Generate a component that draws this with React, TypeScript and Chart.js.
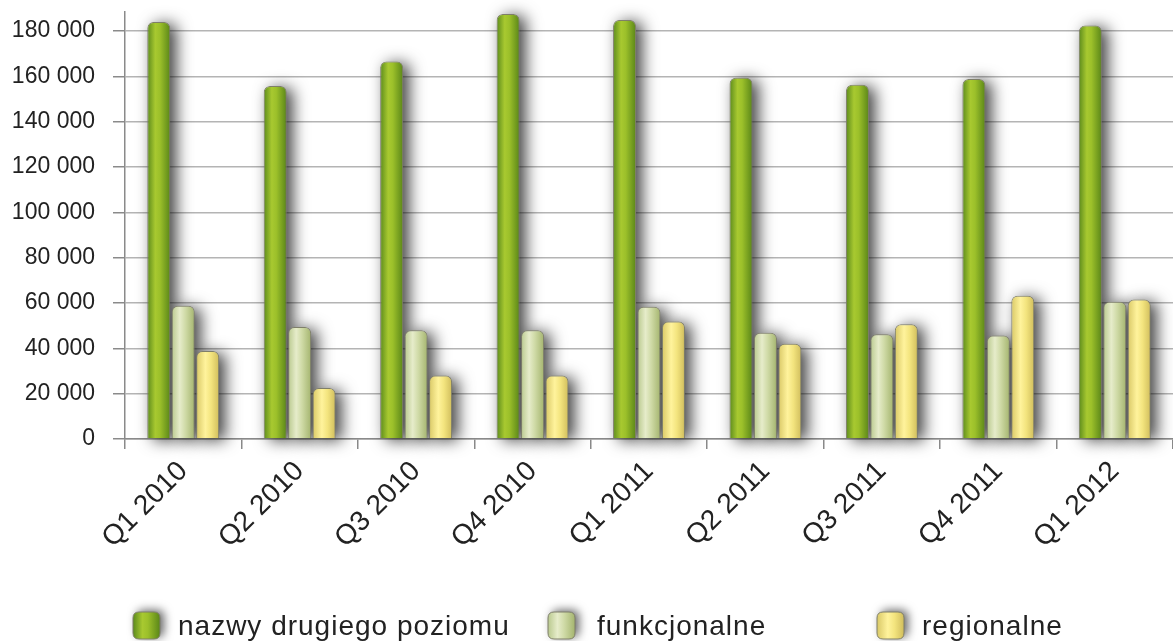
import React, { useEffect, useRef } from "react";
import { Chart, registerables } from "chart.js";

Chart.register(...registerables);

const categories = ["Q1 2010", "Q2 2010", "Q3 2010", "Q4 2010", "Q1 2011", "Q2 2011", "Q3 2011", "Q4 2011", "Q1 2012"];
const seriesNames = ["nazwy drugiego poziomu", "funkcjonalne", "regionalne"];
const secondLevel = [184000, 155700, 166600, 187500, 184900, 159400, 156300, 158800, 182400];
const functional = [58800, 49400, 48000, 48000, 58400, 46900, 46200, 45700, 60600];
const regional = [38800, 22500, 28000, 28000, 51800, 42000, 50600, 63200, 61500];
const yTickValues = [0, 20000, 40000, 60000, 80000, 100000, 120000, 140000, 160000, 180000];

const Y_MAX = 188400;
const CAT_PCT = 0.63;
const BAR_PCT = 0.94;
const FONT = "'Liberation Sans', Arial, sans-serif";

const GREEN_STOPS: [number, string][] = [[0, "#5b8a1c"], [0.35, "#a8c930"], [0.55, "#9cc02a"], [1, "#5a8618"]];
const LIGHT_STOPS: [number, string][] = [[0, "#b9c98e"], [0.35, "#e6ecca"], [0.6, "#cfdaa6"], [1, "#a4b46e"]];
const YELLOW_STOPS: [number, string][] = [[0, "#d9c866"], [0.4, "#fff39c"], [0.65, "#f3e47e"], [1, "#d0bd5c"]];
const STOPS = [GREEN_STOPS, LIGHT_STOPS, YELLOW_STOPS];

function fmt(v: number) {
  return String(v).replace(/\B(?=(\d{3})+(?!\d))/g, " ");
}

function hGradient(ctx: CanvasRenderingContext2D, x0: number, x1: number, stops: [number, string][]) {
  const g = ctx.createLinearGradient(x0, 0, x1, 0);
  stops.forEach(([o, c]) => g.addColorStop(o, c));
  return g;
}

function barGradient(c: any, stops: [number, string][]) {
  const chart = c.chart;
  const xs = chart.scales && chart.scales.x;
  if (!xs || c.dataIndex == null || !xs.width) return stops[1][1];
  const n = chart.data.labels.length;
  const cat = xs.width / n;
  const size = cat * CAT_PCT;
  const chunk = size / 3;
  const center = xs.getPixelForValue(c.dataIndex) - size / 2 + chunk * (c.datasetIndex + 0.5);
  const w = chunk * BAR_PCT;
  return hGradient(chart.ctx, center - w / 2, center + w / 2, stops);
}

function roundTopRect(ctx: CanvasRenderingContext2D, x: number, y: number, w: number, h: number, r: number) {
  ctx.beginPath();
  ctx.moveTo(x, y + h);
  ctx.lineTo(x, y + r);
  ctx.quadraticCurveTo(x, y, x + r, y);
  ctx.lineTo(x + w - r, y);
  ctx.quadraticCurveTo(x + w, y, x + w, y + r);
  ctx.lineTo(x + w, y + h);
  ctx.closePath();
}

function roundRectPath(ctx: CanvasRenderingContext2D, x: number, y: number, w: number, h: number, r: number) {
  ctx.beginPath();
  ctx.moveTo(x + r, y);
  ctx.lineTo(x + w - r, y);
  ctx.quadraticCurveTo(x + w, y, x + w, y + r);
  ctx.lineTo(x + w, y + h - r);
  ctx.quadraticCurveTo(x + w, y + h, x + w - r, y + h);
  ctx.lineTo(x + r, y + h);
  ctx.quadraticCurveTo(x, y + h, x, y + h - r);
  ctx.lineTo(x, y + r);
  ctx.quadraticCurveTo(x, y, x + r, y);
  ctx.closePath();
}

const OFF = 5000;

const shadowPlugin = {
  id: "barShadow",
  beforeDatasetsDraw(chart: any) {
    const ctx: CanvasRenderingContext2D = chart.ctx;
    ctx.save();
    ctx.shadowColor = "rgba(0,0,0,0.75)";
    ctx.shadowBlur = 16;
    ctx.shadowOffsetX = OFF + 6;
    ctx.shadowOffsetY = 2;
    ctx.fillStyle = "#000";
    chart.data.datasets.forEach((_: any, i: number) => {
      const meta = chart.getDatasetMeta(i);
      meta.data.forEach((bar: any) => {
        const { x, y, base, width } = bar.getProps(["x", "y", "base", "width"], true);
        roundTopRect(ctx, x - width / 2 - OFF, y, width, base - y, 6);
        ctx.fill();
      });
    });
    ctx.restore();
  },
};

const legendPlugin = {
  id: "customLegend",
  afterDraw(chart: any) {
    const ctx: CanvasRenderingContext2D = chart.ctx;
    const boxX = [133, 548, 877];
    const textOff = [45, 49, 45];
    const boxY = 612;
    const box = 27;
    seriesNames.forEach((name, i) => {
      const bx = boxX[i];
      ctx.save();
      ctx.shadowColor = "rgba(0,0,0,0.6)";
      ctx.shadowBlur = 10;
      ctx.shadowOffsetX = OFF + 4;
      ctx.shadowOffsetY = -2;
      ctx.fillStyle = "#000";
      roundRectPath(ctx, bx - OFF, boxY, box, box, 6);
      ctx.fill();
      ctx.restore();
      ctx.save();
      roundRectPath(ctx, bx, boxY, box, box, 6);
      ctx.fillStyle = hGradient(ctx, bx, bx + box, STOPS[i]);
      ctx.fill();
      ctx.lineWidth = 1;
      ctx.strokeStyle = "#7f7f6a";
      ctx.stroke();
      ctx.restore();
      ctx.save();
      ctx.fillStyle = "#222";
      ctx.font = `28px ${FONT}`;
      (ctx as any).letterSpacing = "1px";
      ctx.textBaseline = "alphabetic";
      ctx.textAlign = "left";
      ctx.fillText(name, bx + textOff[i], 635);
      ctx.restore();
    });
  },
};

export default function App() {
  const ref = useRef<HTMLCanvasElement>(null);

  useEffect(() => {
    if (!ref.current) return;
    const seriesData = [secondLevel, functional, regional];
    const chart = new Chart(ref.current, {
      type: "bar",
      data: {
        labels: categories,
        datasets: seriesNames.map((name, i) => ({
          label: name,
          data: seriesData[i],
          backgroundColor: (c: any) => barGradient(c, STOPS[i]),
          borderColor: "#7f7f6a",
          borderWidth: 1,
          borderSkipped: "bottom",
          borderRadius: { topLeft: 6, topRight: 6, bottomLeft: 0, bottomRight: 0 },
          categoryPercentage: CAT_PCT,
          barPercentage: BAR_PCT,
          clip: false as any,
        })),
      },
      options: {
        responsive: false,
        animation: false,
        maintainAspectRatio: false,
        layout: { padding: { top: 12, right: 0, left: 0, bottom: 0 } },
        plugins: { legend: { display: false }, tooltip: { enabled: false } },
        scales: {
          x: {
            offset: true,
            grid: {
              offset: true,
              drawOnChartArea: false,
              drawTicks: true,
              tickLength: 10,
              color: "#8a8a8a",
              lineWidth: 1.5,
            },
            border: { display: true, color: "#8a8a8a", width: 1.5 },
            ticks: {
              autoSkip: false,
              maxRotation: 45,
              minRotation: 45,
              padding: 6,
              color: "#222",
              font: { family: FONT, size: 28 },
            },
            afterFit: (s: any) => {
              s.height = 202;
              s.paddingLeft = 0;
              s.paddingRight = 0;
            },
          },
          y: {
            min: 0,
            max: Y_MAX,
            afterBuildTicks: (s: any) => {
              s.ticks = yTickValues.map((v) => ({ value: v }));
            },
            grid: {
              color: "#b4b4b4",
              lineWidth: 1.5,
              drawTicks: true,
              tickLength: 12,
              tickColor: "#8a8a8a",
            },
            border: { display: true, color: "#8a8a8a", width: 1.5 },
            ticks: {
              padding: 18,
              color: "#222",
              font: { family: FONT, size: 23 },
              callback: (v: any) => fmt(Number(v)),
            },
            afterFit: (s: any) => {
              s.width = 125;
              s.paddingTop = 0;
              s.paddingBottom = 0;
            },
          },
        },
      },
      plugins: [shadowPlugin, legendPlugin],
    });
    return () => chart.destroy();
  }, []);

  return (
    <div style={{ position: "absolute", left: 0, top: 0, width: 1173, height: 641, background: "#fff" }}>
      <canvas ref={ref} width={1173} height={641} style={{ width: 1173, height: 641, display: "block" }} />
    </div>
  );
}
